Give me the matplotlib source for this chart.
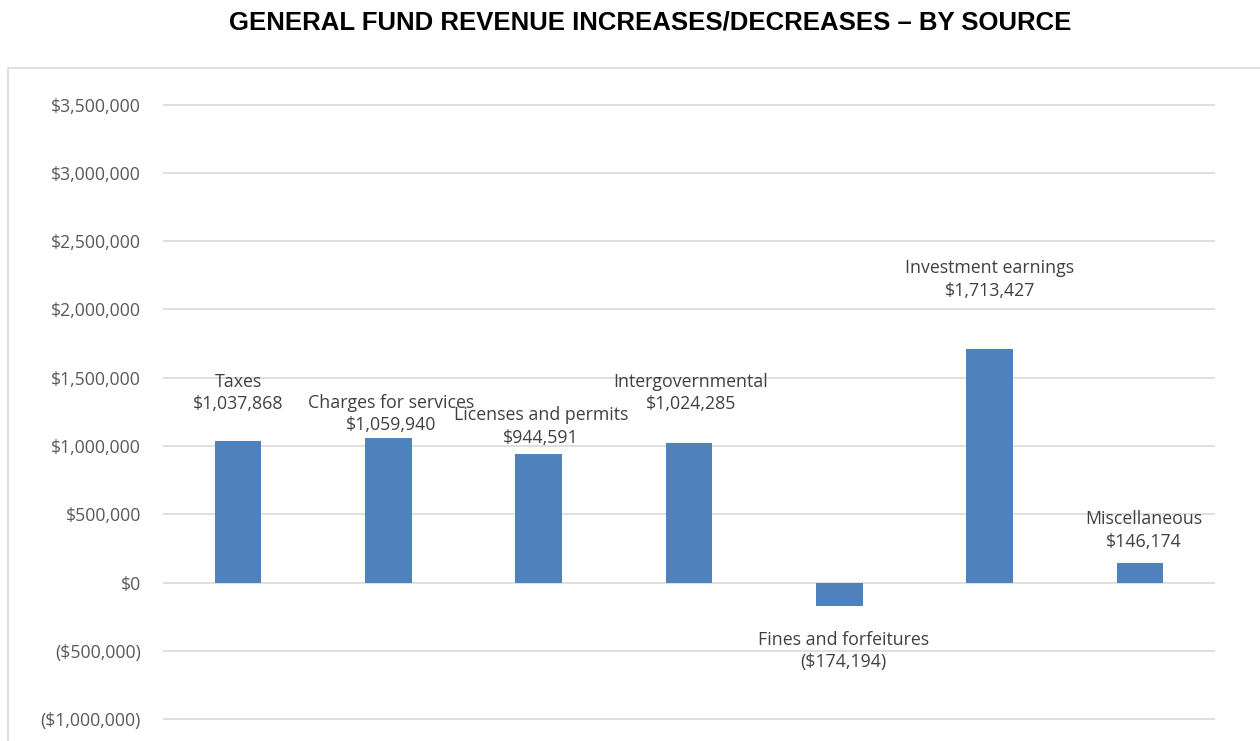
import matplotlib.pyplot as plt
from matplotlib.patches import Rectangle

categories = ['Taxes', 'Charges for services', 'Licenses and permits', 'Intergovernmental',
              'Fines and forfeitures', 'Investment earnings', 'Miscellaneous']
changes = [1037868, 1059940, 944591, 1024285, -174194, 1713427, 146174]
y_ticks = [3500000, 3000000, 2500000, 2000000, 1500000, 1000000, 500000, 0, -500000, -1000000]

# label block offsets (pixels) from the bar end, hand placed like the original worksheet
label_offsets = [(0, 48), (3, 24), (2, 27), (2, 50), (4, -45), (0, 69), (4, 32)]


def money(v):
    if v < 0:
        return '(${:,.0f})'.format(-v)
    return '${:,.0f}'.format(v)


fig = plt.figure(figsize=(12.6, 7.41), dpi=100)
fig.text(0.516, 0.969, 'GENERAL FUND REVENUE INCREASES/DECREASES \u2013 BY SOURCE',
         ha='center', va='center', fontsize=18.5, fontweight='bold', family='Liberation Sans')

# chart area border
fig.patches.append(Rectangle((8 / 1260, -0.1), 1.2, (741 - 68) / 741 + 0.1,
                             transform=fig.transFigure, fill=False,
                             edgecolor='#D9D9D9', linewidth=1.2))

ax = fig.add_axes([163 / 1260, 0, (1215 - 163) / 1260, (741 - 104) / 741])
x = range(len(categories))
ax.bar(x, changes, width=0.31, color='#4F81BD', zorder=3)

ax.set_xlim(-0.5, len(categories) - 0.5)
ax.set_ylim(-1161000, 3505000)
ax.set_yticks(y_ticks)
ax.set_yticklabels([money(v) for v in y_ticks], family='Open Sans', fontsize=12.7, color='#595959')
ax.tick_params(axis='y', length=0, pad=16)
ax.set_xticks([])
ax.grid(axis='y', color='#D9D9D9', linewidth=1.2, zorder=0)
for s in ax.spines.values():
    s.set_visible(False)

for i, (name, v) in enumerate(zip(categories, changes)):
    dx, dy = label_offsets[i]
    ax.annotate(name + '\n' + money(v), xy=(i, v), xytext=(dx, dy),
                textcoords='offset pixels', ha='center', va='center',
                fontsize=12.8, family='Open Sans', color='#404040', linespacing=1.3,
                zorder=4)

fig.savefig('out.png', dpi=100, facecolor='white')
